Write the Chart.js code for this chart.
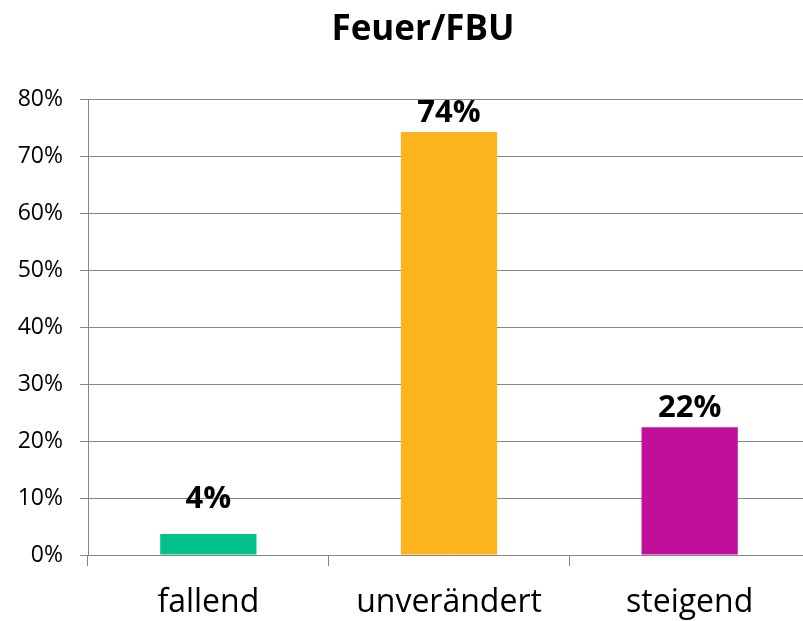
<!DOCTYPE html>
<html><head><meta charset="utf-8">
<script src="https://cdn.jsdelivr.net/npm/chart.js@4/dist/chart.umd.min.js"></script>
<style>html,body{margin:0;padding:0;overflow:hidden;background:#fff;width:803px;height:621px}#wrap{position:absolute;left:0;top:0;width:812px;height:621px}</style>
</head><body><div id="wrap"><canvas id="c" width="812" height="621"></canvas></div>
<script>
const chartTitle = "Feuer/FBU";
const categories = ["fallend", "unverändert", "steigend"];
const values = [3.7, 74.2, 22.4];
const valueLabels = ["4%", "74%", "22%"];
const barColors = ["#00C28A", "#FCB41E", "#C10F9B"];
const yTicks = [0, 10, 20, 30, 40, 50, 60, 70, 80];

const FONT = "'Open Sans', sans-serif";

const labelPlugin = {
  id: 'labels',
  afterDatasetsDraw(chart) {
    const ctx = chart.ctx;
    const meta = chart.getDatasetMeta(0);
    const gaps = [26, 10, 10];
    ctx.save();
    ctx.fillStyle = '#000';
    ctx.font = "bold 31px " + FONT;
    ctx.textAlign = 'center';
    ctx.textBaseline = 'alphabetic';
    meta.data.forEach((bar, i) => {
      ctx.fillText(valueLabels[i], bar.x, bar.y - gaps[i]);
    });
    ctx.font = "bold 35px " + FONT;
    ctx.fillText(chartTitle, 423, 40);
    ctx.restore();
  }
};

new Chart(document.getElementById('c'), {
  type: 'bar',
  data: {
    labels: categories,
    datasets: [{ data: values, backgroundColor: barColors, barPercentage: 0.4, categoryPercentage: 1.0 }]
  },
  options: {
    responsive: false,
    animation: false,
    layout: { padding: { top: 99, left: 0, right: 2, bottom: 0 } },
    plugins: { legend: { display: false }, tooltip: { enabled: false }, title: { display: false } },
    scales: {
      x: {
        offset: true,
        grid: { offset: true, drawOnChartArea: false, color: '#868686', tickLength: 11, lineWidth: 1 },
        border: { color: '#868686', width: 1 },
        ticks: { color: '#000', font: { family: FONT, size: 32 }, padding: 18 },
        afterFit(s) { s.height = 66; }
      },
      y: {
        min: 0, max: 80,
        afterBuildTicks(s) { s.ticks = yTicks.map(v => ({ value: v })); },
        grid: { color: '#868686', tickLength: 8, lineWidth: 1 },
        border: { color: '#868686', width: 1 },
        ticks: { color: '#000', font: { family: FONT, size: 23 }, padding: 17, callback: v => v + '%' },
        afterFit(s) { s.width = 88; }
      }
    }
  },
  plugins: [labelPlugin]
});
</script></body></html>
